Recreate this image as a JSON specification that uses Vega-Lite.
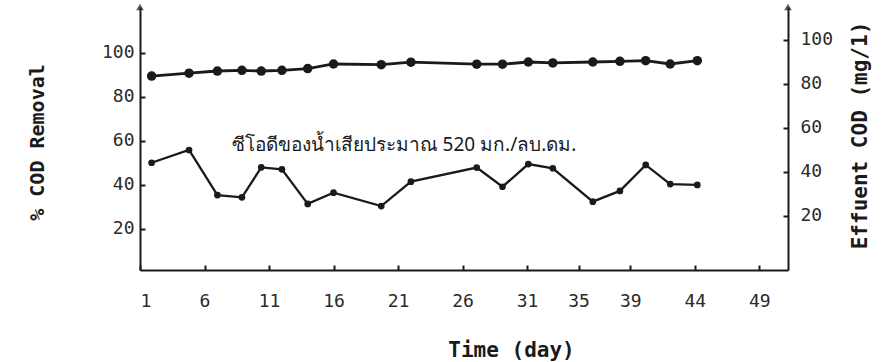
{
  "$schema": "https://vega.github.io/schema/vega-lite/v6.json",
  "width": 648,
  "height": 263,
  "autosize": {"type": "none"},
  "padding": {"left": 140, "top": 7, "right": 105, "bottom": 92},
  "background": "white",
  "config": {
    "view": {"stroke": null},
    "axis": {
      "domainColor": "#1a1a1a",
      "domainWidth": 2,
      "tickColor": "#1a1a1a",
      "tickWidth": 2,
      "grid": false,
      "labelFont": "DejaVu Sans Mono",
      "labelFontSize": 18,
      "labelColor": "#2a2a2a",
      "titleFont": "DejaVu Sans Mono",
      "titleFontSize": 20,
      "titleFontWeight": "bold",
      "titleColor": "#1a1a1a"
    }
  },
  "datasets": {
    "series": [
      {"day": 1.9, "removal": 89.5, "effluent": 44.2},
      {"day": 4.8, "removal": 90.8, "effluent": 50.0},
      {"day": 7.0, "removal": 91.8, "effluent": 29.5},
      {"day": 8.9, "removal": 92.1, "effluent": 28.5},
      {"day": 10.4, "removal": 91.8, "effluent": 42.1},
      {"day": 12.0, "removal": 92.1, "effluent": 41.2},
      {"day": 14.0, "removal": 92.9, "effluent": 25.5},
      {"day": 16.0, "removal": 95.0, "effluent": 30.6},
      {"day": 19.7, "removal": 94.7, "effluent": 24.5},
      {"day": 22.0, "removal": 95.8, "effluent": 35.6},
      {"day": 27.1, "removal": 94.9, "effluent": 42.0},
      {"day": 29.1, "removal": 94.9, "effluent": 33.3},
      {"day": 31.1, "removal": 95.9, "effluent": 43.6},
      {"day": 33.0, "removal": 95.5, "effluent": 41.7},
      {"day": 36.1, "removal": 95.9, "effluent": 26.5},
      {"day": 38.2, "removal": 96.2, "effluent": 31.4},
      {"day": 40.2, "removal": 96.5, "effluent": 43.2},
      {"day": 42.1, "removal": 95.0, "effluent": 34.5},
      {"day": 44.2, "removal": 96.5, "effluent": 34.1}
    ],
    "note": [
      {"day": 8.1, "removal": 58.2, "label": "ซีโอดีของน้ำเสียประมาณ 520 มก./ลบ.ดม."}
    ]
  },
  "layer": [
    {
      "layer": [
        {
          "data": {"name": "series"},
          "mark": {"type": "line", "color": "#1a1a1a", "strokeWidth": 2.8, "point": {"filled": true, "size": 90, "color": "#1a1a1a"}},
          "encoding": {
            "x": {
              "field": "day", "type": "quantitative",
              "scale": {"domain": [1, 51.23], "nice": false, "zero": false},
              "axis": {
                "values": [1, 6, 11, 16, 21, 26, 31, 35, 39, 44, 49],
                "tickSize": -5,
                "labelPadding": 27,
                "title": "Time (day)",
                "titleFontSize": 21,
                "titleX": 371,
                "titleY": 80,
                "titleAlign": "center",
                "titleBaseline": "middle"
              }
            },
            "y": {
              "field": "removal", "type": "quantitative",
              "scale": {"domain": [1.36, 120.9], "nice": false, "zero": false},
              "axis": {
                "orient": "left",
                "values": [20, 40, 60, 80, 100],
                "tickSize": -5,
                "labelPadding": 11,
                "title": "% COD Removal",
                "titleAngle": -90,
                "titleX": -103,
                "titleY": 135,
                "titleAlign": "center",
                "titleBaseline": "middle"
              }
            }
          }
        },
        {
          "data": {"name": "note"},
          "mark": {"type": "text", "align": "left", "baseline": "middle", "font": "Noto Sans", "fontSize": 19, "color": "#1a1a1a"},
          "encoding": {
            "x": {"field": "day", "type": "quantitative"},
            "y": {"field": "removal", "type": "quantitative"},
            "text": {"field": "label"}
          }
        },
        {
          "data": {"values": [{}]},
          "mark": {"type": "point", "shape": "triangle-up", "filled": true, "size": 60, "color": "#1a1a1a"},
          "encoding": {
            "x": {"datum": 1},
            "y": {"datum": 120.9}
          }
        }
      ]
    },
    {
      "layer": [
        {
          "data": {"name": "series"},
          "mark": {"type": "line", "color": "#1a1a1a", "strokeWidth": 2.3, "point": {"filled": true, "size": 45, "color": "#1a1a1a"}},
          "encoding": {
            "x": {"field": "day", "type": "quantitative"},
            "y": {
              "field": "effluent", "type": "quantitative",
              "scale": {"domain": [-4.55, 115], "nice": false, "zero": false},
              "axis": {
                "orient": "right",
                "values": [20, 40, 60, 80, 100],
                "tickSize": -5,
                "labelPadding": 17,
                "title": "Effuent COD (mg/1)",
                "titleFontSize": 21,
                "titleAngle": -90,
                "titleX": 72,
                "titleY": 128,
                "titleAlign": "center",
                "titleBaseline": "middle"
              }
            }
          }
        },
        {
          "data": {"values": [{}]},
          "mark": {"type": "point", "shape": "triangle-up", "filled": true, "size": 60, "color": "#1a1a1a"},
          "encoding": {
            "x": {"datum": 51.23},
            "y": {"datum": 115}
          }
        }
      ]
    }
  ],
  "resolve": {"scale": {"y": "independent"}}
}
